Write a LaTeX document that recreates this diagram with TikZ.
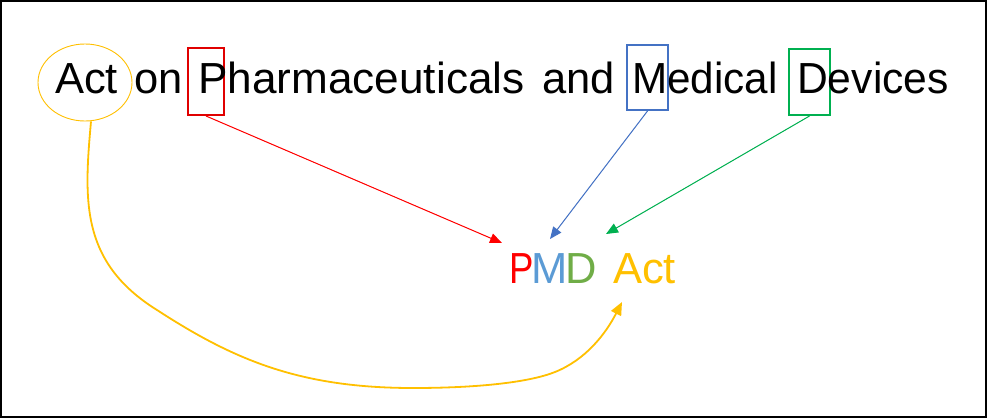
\documentclass[tikz,border=0pt]{standalone}
\usepackage{fontspec}
\setmainfont{Liberation Sans}
\usetikzlibrary{shapes.geometric,arrows.meta}
\definecolor{cred}{HTML}{E00000}
\definecolor{ared}{HTML}{FF0000}
\definecolor{cblue}{HTML}{4472C4}
\definecolor{cgreen}{HTML}{00B050}
\definecolor{cgold}{HTML}{FFC000}
\definecolor{mblue}{HTML}{5B9BD5}
\definecolor{dgreen}{HTML}{70AD47}
\tikzset{
  word/.style={anchor=base west,inner sep=0pt,font=\fontsize{43.5}{50}\selectfont},
  letterbox/.style={draw=#1,line width=2pt,rectangle,inner sep=0pt},
  thinarrow/.style={draw=#1,line width=1pt,-{Triangle[length=12pt,width=10pt]},fill=#1},
}
\begin{document}
\begin{tikzpicture}[x=1pt,y=-1pt]
\draw[line width=2pt,fill=white] (1,1) rectangle (986,417);
% marks
\node[draw=cgold,line width=0.9pt,ellipse,minimum width=94pt,minimum height=77pt,inner sep=0pt] (ell) at (85,82.5) {};
\node[letterbox=cred,minimum width=36pt,minimum height=67pt] (bP) at (206,81.5) {};
\node[letterbox=cblue,minimum width=41pt,minimum height=65pt] (bM) at (647.5,77.5) {};
\node[letterbox=cgreen,minimum width=41pt,minimum height=66pt] (bD) at (809.5,82) {};
% top text
\node[word] (w1) at (55,93) {Act};
\node[word] (w2) at (134,93) {on};
\node[word] (w3) at (198,93) {\scalebox{1.015}[1]{Pharmaceuticals}};
\node[word] (w4) at (542,93) {and};
\node[word] (w5) at (632,93) {\scalebox{0.97}[1]{Medical}};
\node[word] (w6) at (797,93) {\scalebox{0.98}[1]{Devices}};
% bottom text
\node[word,text=ared] (tP) at (509.3,283) {\scalebox{0.84}[1]{P}};
\node[word,text=mblue] (tM) at (530.8,283) {M};
\node[word,text=dgreen] (tD) at (565.5,283) {D};
\node[word,text=cgold] (tAct) at (613,283) {Act};
% arrow tips
\coordinate (sA) at ([xshift=6pt]ell.south);
\coordinate (eP) at (502,243);
\coordinate (eM) at (550,239);
\coordinate (eD) at (606,234);
\coordinate (eA) at (622,302);
\coordinate (k1) at (157,310);
\coordinate (k2) at (413,388);
\coordinate (k3) at (555,372);
\draw[thinarrow=ared] (bP.south) -- (eP);
\draw[thinarrow=cblue] (bM.south) -- (eM);
\draw[thinarrow=cgreen] (bD.south) -- (eD);
\draw[draw=cgold,line width=1.8pt,-{Triangle[length=13pt,width=11pt]}]
  (sA) .. controls (84,200) and (80,262) .. (k1)
  .. controls (234,360) and (300,388) .. (k2)
  .. controls (480,388) and (530,382) .. (k3)
  .. controls (585,360) and (605,335) .. (eA);
\end{tikzpicture}
\end{document}
